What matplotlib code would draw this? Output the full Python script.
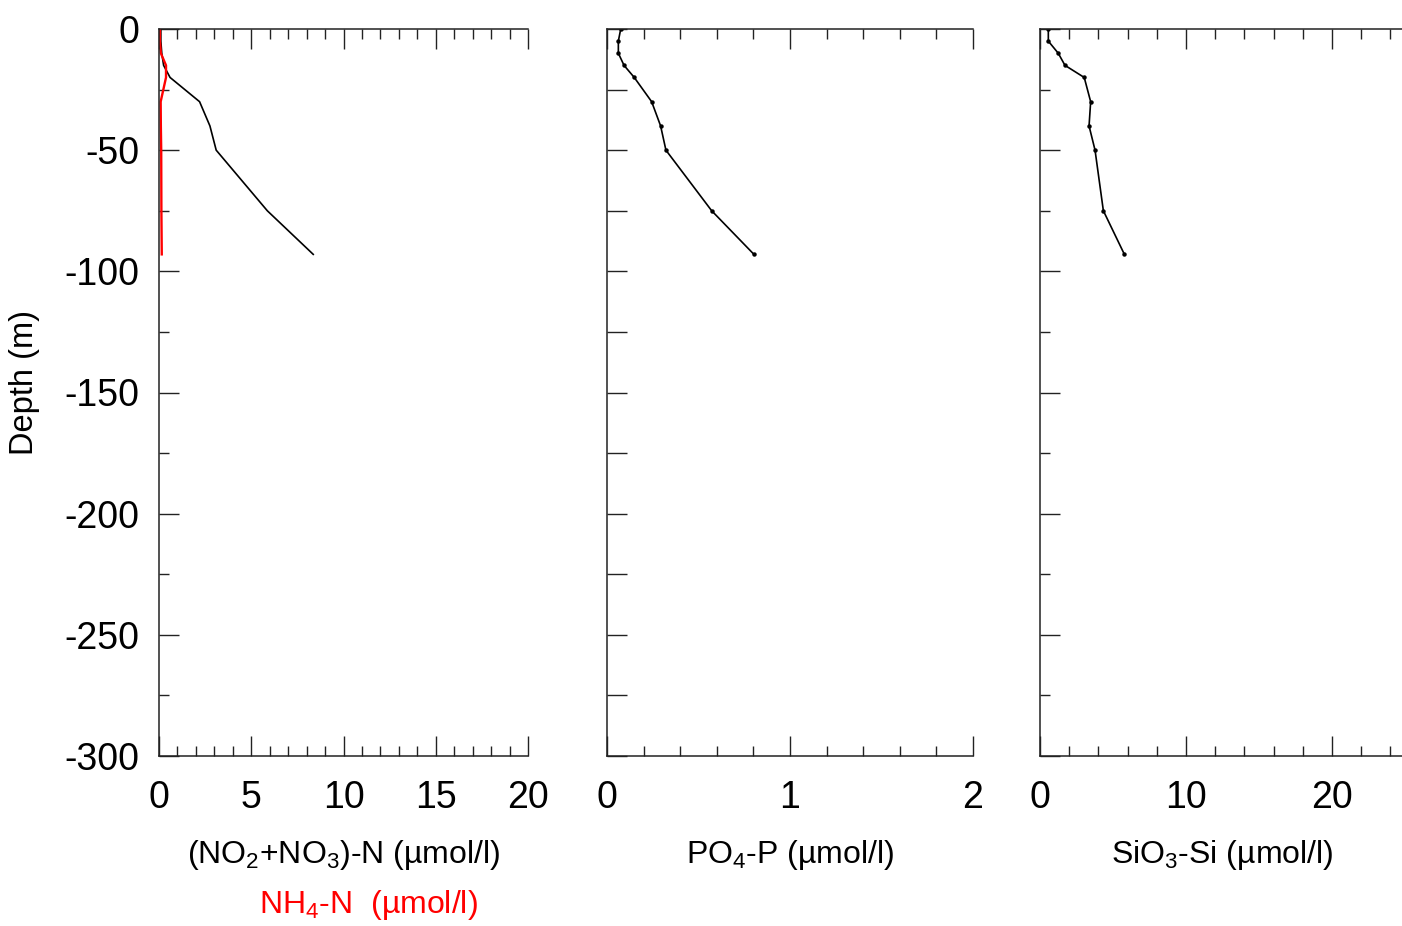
import matplotlib
matplotlib.use('Agg')
import matplotlib.pyplot as plt
from matplotlib.ticker import MultipleLocator

plt.rcParams['font.family'] = ['Liberation Sans', 'DejaVu Sans']
plt.rcParams['mathtext.fontset'] = 'custom'
plt.rcParams['mathtext.rm'] = 'Liberation Sans'
plt.rcParams['mathtext.it'] = 'Liberation Sans:italic'
plt.rcParams['mathtext.bf'] = 'Liberation Sans:bold'
plt.rcParams['axes.unicode_minus'] = False

# ---- data ----
depth = [0, -5, -10, -15, -20, -30, -40, -50, -75, -93]
no2_no3 = [0.1, 0.1, 0.15, 0.25, 0.6, 2.2, 2.76, 3.1, 5.87, 8.36]
nh4 = [0.05, 0.05, 0.1, 0.38, 0.38, 0.09, 0.1, 0.12, 0.13, 0.15]
po4 = [0.075, 0.062, 0.062, 0.093, 0.149, 0.244, 0.293, 0.322, 0.572, 0.803]
sio3 = [0.57, 0.57, 1.25, 1.71, 3.03, 3.47, 3.36, 3.77, 4.34, 5.78]

ytick_vals = [0, -50, -100, -150, -200, -250, -300]
xticks1 = [0, 5, 10, 15, 20]
xticks2 = [0, 1, 2]
xticks3 = [0, 10, 20]
xlim1 = (0, 20); xmin1 = 1
xlim2 = (0, 2); xmin2 = 0.2
xlim3 = (0, 25); xmin3 = 2
ylim = (-300, 0)

label1 = '(NO$_2$+NO$_3$)-N (µmol/l)'
label1b = 'NH$_4$-N  (µmol/l)'
label2 = 'PO$_4$-P (µmol/l)'
label3 = 'SiO$_3$-Si (µmol/l)'
ylabel = 'Depth (m)'

W, H = 1402, 926
fig = plt.figure(figsize=(W / 100, H / 100), dpi=100)


def px_axes(x0, x1, y0, y1):
    return fig.add_axes([x0 / W, 1 - y1 / H, (x1 - x0) / W, (y1 - y0) / H])


ax1 = px_axes(159, 528, 29, 756)
ax2 = px_axes(607, 973, 29, 756)
ax3 = px_axes(1040, 1405, 29, 756)

tick_fs = 27
for ax, xl, xt, xmn in [(ax1, xlim1, xticks1, xmin1), (ax2, xlim2, xticks2, xmin2), (ax3, xlim3, xticks3, xmin3)]:
    ax.set_xlim(*xl)
    ax.set_ylim(*ylim)
    ax.spines['right'].set_visible(False)
    for s in ['top', 'left', 'bottom']:
        ax.spines[s].set_linewidth(1.1)
        ax.spines[s].set_color('#222222')
    ax.set_xticks(xt)
    ax.set_xticklabels([str(v) for v in xt])
    ax.xaxis.set_minor_locator(MultipleLocator(xmn))
    ax.set_yticks(ytick_vals)
    ax.yaxis.set_minor_locator(MultipleLocator(25))
    ax.tick_params(axis='both', which='both', direction='in', top=True, bottom=True,
                   left=True, right=False, width=1.0, color='#222222')
    ax.tick_params(axis='both', which='major', length=14.5, labelsize=tick_fs)
    ax.tick_params(axis='both', which='minor', length=7.5)
    ax.tick_params(axis='x', which='major', pad=17)
    ax.tick_params(axis='y', which='major', pad=14)
    ax.patch.set_alpha(0)

ax1.set_yticklabels([str(v) for v in ytick_vals])
ax2.set_yticklabels([])
ax3.set_yticklabels([])
ax2.tick_params(axis='y', which='minor', length=14.5)

ax1.plot(no2_no3, depth, color='black', lw=1.2)
ax1.plot(nh4, depth, color='red', lw=1.7)
ax2.plot(po4, depth, color='black', lw=1.2, marker='o', ms=2.2)
ax3.plot(sio3, depth, color='black', lw=1.2, marker='o', ms=2.2)

lab_fs = 23
fig.text(343.5 / W, 1 - 855 / H, label1, ha='center', va='center', fontsize=lab_fs)
fig.text(368 / W, 1 - 905 / H, label1b, ha='center', va='center', fontsize=lab_fs, color='red')
fig.text(790 / W, 1 - 855 / H, label2, ha='center', va='center', fontsize=lab_fs)
fig.text(1222 / W, 1 - 855 / H, label3, ha='center', va='center', fontsize=lab_fs)
fig.text(25 / W, 1 - 383 / H, ylabel, ha='center', va='center', fontsize=23.5, rotation=90)

fig.savefig('out.png', dpi=100)
